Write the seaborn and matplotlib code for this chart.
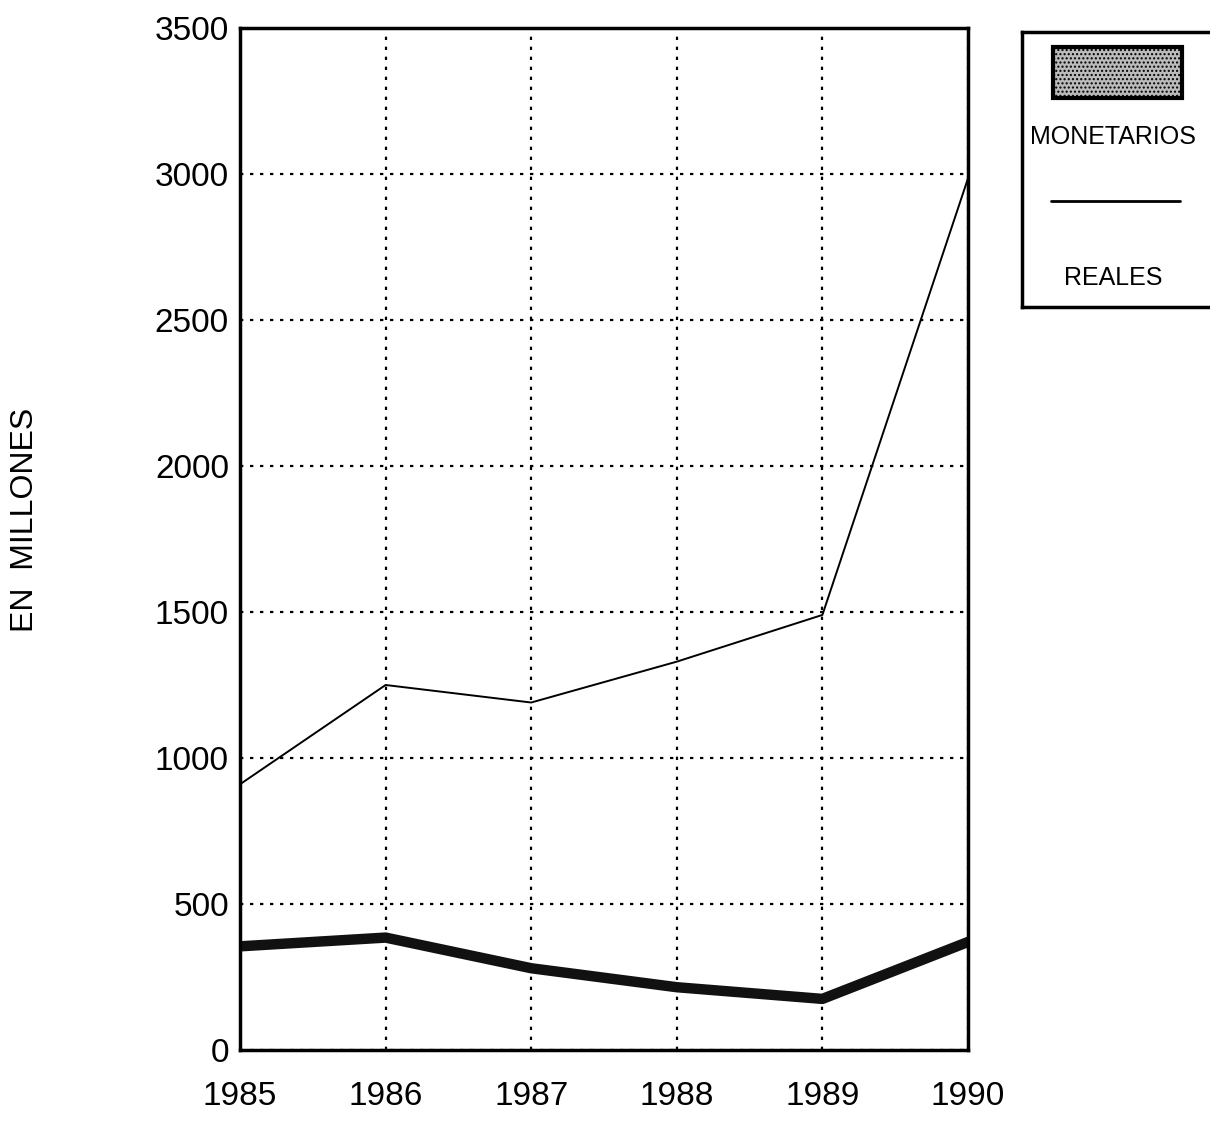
import matplotlib
matplotlib.use("Agg")
import matplotlib.pyplot as plt
from matplotlib.patches import Rectangle
import pandas as pd
import seaborn as sns

years = [1985, 1986, 1987, 1988, 1989, 1990]
monetarios = [355, 385, 280, 215, 175, 370]
reales = [910, 1250, 1190, 1330, 1490, 2985]
y_ticks = [0, 500, 1000, 1500, 2000, 2500, 3000, 3500]

df = pd.DataFrame({
    "year": years * 2,
    "valor": monetarios + reales,
    "serie": ["MONETARIOS"] * len(years) + ["REALES"] * len(years),
})

sns.set_style("white")
plt.rcParams["font.family"] = ["Liberation Sans", "DejaVu Sans"]
plt.rcParams["text.color"] = "black"
plt.rcParams["xtick.color"] = "black"
plt.rcParams["ytick.color"] = "black"

fig = plt.figure(figsize=(12.1, 11.25), dpi=100)
ax = fig.add_axes([240 / 1210, 1 - 1050 / 1125, 728 / 1210, 1022 / 1125])

sns.lineplot(
    data=df, x="year", y="valor", hue="serie", size="serie",
    palette={"MONETARIOS": "#111111", "REALES": "black"},
    sizes={"MONETARIOS": 7.5, "REALES": 1.4},
    legend=False, ax=ax,
)

ax.set_xlim(1985, 1990)
ax.set_ylim(0, 3500)
ax.set_xticks(years)
ax.set_yticks(y_ticks)
ax.set_xticklabels([str(y) for y in years], fontsize=24)
ax.set_yticklabels([str(v) for v in y_ticks], fontsize=24)
ax.tick_params(length=0, pad=8)
ax.tick_params(axis="x", pad=22)
ax.grid(True, color="black", linestyle=(0, (1.5, 3)), linewidth=1.6)
for s in ax.spines.values():
    s.set_visible(True)
    s.set_color("black")
    s.set_linewidth(2.5)
ax.set_xlabel("")
ax.set_ylabel("")

fig.text(25 / 1210, 1 - 520 / 1125, "EN  MILLONES", rotation=90,
         ha="center", va="center", fontsize=23)

# legend box
lax = fig.add_axes([1022 / 1210, 1 - 307 / 1125, 195 / 1210, 275 / 1125])
lax.set_xlim(0, 1)
lax.set_ylim(0, 1)
lax.set_xticks([])
lax.set_yticks([])
for s in lax.spines.values():
    s.set_linewidth(2.5)
    s.set_color("black")
lax.add_patch(Rectangle((0.16, 0.76), 0.66, 0.185, facecolor="#bbbbbb",
                        edgecolor="black", linewidth=3, hatch="...."))
lax.text(0.467, 0.62, "MONETARIOS", ha="center", va="center", fontsize=18)
lax.plot([0.15, 0.81], [0.385, 0.385], color="black", linewidth=2)
lax.text(0.467, 0.105, "REALES", ha="center", va="center", fontsize=18)

fig.savefig("out.png", dpi=100)
